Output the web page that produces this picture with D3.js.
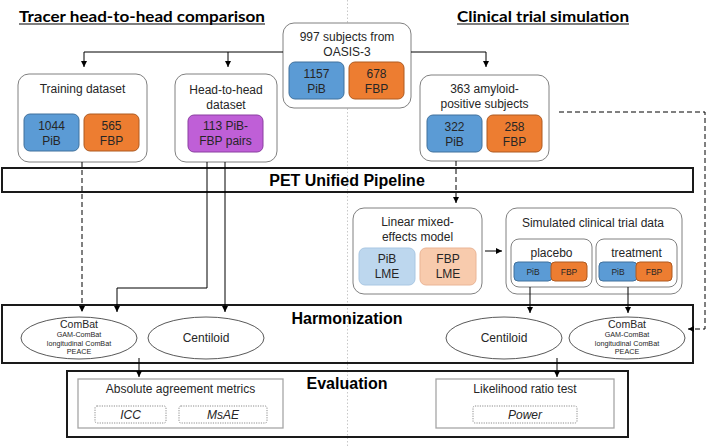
<!DOCTYPE html>
<html><head><meta charset="utf-8">
<script src="https://cdn.jsdelivr.net/npm/d3@7"></script>
<style>body{margin:0;background:#fff}svg{display:block}</style>
</head><body>
<svg id="c" width="709" height="446"></svg>
<script>
// ---- data ----
const sectionTitles = ["Tracer head-to-head comparison", "Clinical trial simulation"];
const stageLabels = ["PET Unified Pipeline", "Harmonization", "Evaluation"];
const tracers = ["PiB", "FBP"];
const sourceTitle = ["997 subjects from", "OASIS-3"];
const sourceCounts = [1157, 678];
const trainingTitle = ["Training dataset"];
const trainingCounts = [1044, 565];
const pairTitle = ["Head-to-head", "dataset"];
const pairLabel = ["113 PiB-", "FBP pairs"];
const amyloidTitle = ["363 amyloid-", "positive subjects"];
const amyloidCounts = [322, 258];
const lmeTitle = ["Linear mixed-", "effects model"];
const lmeSuffix = "LME";
const simTitle = ["Simulated clinical trial data"];
const armLabels = ["placebo", "treatment"];
const methodLabels = ["ComBat", "Centiloid"];
const combatVariants = ["GAM-ComBat", "longitudinal ComBat", "PEACE"];
const evalLabels = ["Absolute agreement metrics", "Likelihood ratio test"];
const metricLabels = [["ICC", "MsAE"], ["Power"]];

// ---- styles ----
const C = {
  text: "#262626",
  blue: "#5b9bd5", blueS: "#41719c",
  orange: "#ed7d31", orangeS: "#ae5a21",
  purple: "#bf5fd7", purpleS: "#8a3ea0",
  lblue: "#bdd7ee", lblueS: "#a9c7e3",
  lorange: "#f8cbad", lorangeS: "#eab596",
  gray: "#808080"
};
const FONT = "'Liberation Sans', Arial, sans-serif";
const svg = d3.select("#c");
svg.append("rect").attr("width", 709).attr("height", 446).attr("fill", "#fff");
const defs = svg.append("defs");
defs.append("marker").attr("id", "ah").attr("viewBox", "0 0 10 10")
  .attr("refX", 10).attr("refY", 5).attr("markerWidth", 6).attr("markerHeight", 6)
  .attr("markerUnits", "userSpaceOnUse").attr("orient", "auto")
  .append("path").attr("d", "M0,0L10,5L0,10z").attr("fill", "#000");

const gBack = svg.append("g"), gBox = svg.append("g"), gLine = svg.append("g"), gText = svg.append("g");

function box(x, y, w, h, o = {}) {
  return gBox.append("rect").attr("x", x).attr("y", y).attr("width", w).attr("height", h)
    .attr("rx", o.r ?? 0).attr("fill", o.fill ?? "#fff").attr("stroke", o.stroke ?? C.gray)
    .attr("stroke-width", o.sw ?? 1).attr("stroke-dasharray", o.dash ?? null);
}
function text(x, y, lines, size, o = {}) {
  const t = gText.append("text").attr("x", x).attr("y", y).attr("text-anchor", o.anchor ?? "middle")
    .attr("font-family", o.font ?? FONT).attr("font-size", size).attr("fill", o.fill ?? C.text)
    .attr("font-weight", o.weight ?? "normal").attr("font-style", o.style ?? "normal");
  const lh = o.lh ?? size * 1.22;
  lines.forEach((s, i) => t.append("tspan").attr("x", x).attr("y", y + i * lh).text(s));
  return t;
}
function line(pts, o = {}) {
  const p = gLine.append("path").attr("d", d3.line()(pts)).attr("fill", "none")
    .attr("stroke", "#000").attr("stroke-width", 1).attr("stroke-dasharray", o.dash ?? null);
  if (o.arrow !== false) p.attr("marker-end", "url(#ah)");
  return p;
}
const fills = [[C.blue, C.blueS], [C.orange, C.orangeS]];
function tracerPair(x0, y, w, h, gap, counts, size, r) {
  tracers.forEach((tr, i) => {
    const x = x0 + i * (w + gap);
    box(x, y, w, h, { r, fill: fills[i][0], stroke: fills[i][1] });
    text(x + w / 2, y + h / 2 - 3, [String(counts[i]), tr], size, { lh: size * 1.25 });
  });
}

// divider
gBack.append("line").attr("x1", 347.5).attr("x2", 347.5).attr("y1", 0).attr("y2", 446)
  .attr("stroke", "#c8c8c8").attr("stroke-width", 1).attr("stroke-dasharray", "1.5,2");

// section titles
[[142, 22, 246], [543, 22, 172]].forEach(([cx, by, tw], i) => {
  const t = text(cx, by, [sectionTitles[i]], 16, { weight: "bold", font: "Lato, 'Open Sans', sans-serif", fill: "#000" });
  t.select("tspan").attr("textLength", tw).attr("lengthAdjust", "spacingAndGlyphs");
  gText.append("line").attr("x1", cx - tw / 2).attr("x2", cx + tw / 2).attr("y1", by + 2).attr("y2", by + 2)
    .attr("stroke", "#000").attr("stroke-width", 1.2);
});

// source box
box(283, 23, 128, 85, { r: 11 });
text(347, 41, sourceTitle, 12, { lh: 14.5 });
tracerPair(289, 62, 55, 37, 5, sourceCounts, 12, 6);

// training
box(18, 74, 129, 88, { r: 11 });
text(82.5, 93, trainingTitle, 12);
tracerPair(24, 114, 55, 37, 5, trainingCounts, 12, 6);

// head-to-head
box(175, 74, 102, 88, { r: 11 });
text(226, 94, pairTitle, 12, { lh: 15 });
box(188, 115, 75, 37, { r: 6, fill: C.purple, stroke: C.purpleS });
text(225.5, 130, pairLabel, 12, { lh: 15 });

// amyloid
box(420, 75, 129, 86, { r: 11 });
text(484.5, 93, amyloidTitle, 12, { lh: 15 });
tracerPair(427, 115, 55, 37, 5, amyloidCounts, 12, 6);

// LME
box(353, 208, 129, 86, { r: 11 });
text(417.5, 226, lmeTitle, 12, { lh: 15 });
[[C.lblue, C.lblueS], [C.lorange, C.lorangeS]].forEach((f, i) => {
  const x = 359 + i * 61;
  box(x, 248, 56, 37, { r: 6, fill: f[0], stroke: f[1] });
  text(x + 28, 263, [tracers[i], lmeSuffix], 12, { lh: 15 });
});

// simulated trial
box(506, 208, 176, 86, { r: 11 });
text(593, 227, simTitle, 12);
armLabels.forEach((a, i) => {
  const x = 511 + i * 85;
  box(x, 239, 81, 48, { r: 8 });
  text(x + 40.5, 257, [a], 12);
  tracers.forEach((tr, j) => {
    const bx = x + 3 + j * 37;
    box(bx, 262, 38 - j * 2, 19, { r: 4, fill: fills[j][0], stroke: fills[j][1] });
    text(bx + (38 - j * 2) / 2, 275, [tr], 8.5);
  });
});

// stage boxes
const stageBoxes = [[2, 168, 691, 24, 186], [2, 305, 691, 58, 324], [67, 371, 561, 66, 389]];
stageBoxes.forEach(([x, y, w, h, by], i) => {
  box(x, y, w, h, { fill: "none", stroke: "#1a1a1a", sw: 2 });
  text(347, by, [stageLabels[i]], 16, { weight: "bold", fill: "#000" });
});

// ellipses
const ell = [[79, 0], [206, 1], [504, 1], [627, 0]];
ell.forEach(([cx, m]) => {
  gBox.append("ellipse").attr("cx", cx).attr("cy", 338).attr("rx", 58).attr("ry", 21)
    .attr("fill", "#fff").attr("stroke", "#595959").attr("stroke-width", 1);
  if (m === 0) {
    text(cx, 328, [methodLabels[0]], 10.5);
    text(cx, 337, combatVariants, 7.2, { lh: 8.5 });
  } else {
    text(cx, 342, [methodLabels[1]], 12);
  }
});

// evaluation boxes
const evalBoxes = [[78, 379, 205, 49], [436, 379, 178, 49]];
evalBoxes.forEach(([x, y, w, h], i) => {
  box(x, y, w, h, { stroke: "#a6a6a6", sw: 1.3 });
  text(x + w / 2, 393, [evalLabels[i]], 12);
});
const metricBoxes = [[[95, 71], [179, 88]], [[473, 104]]];
metricLabels.forEach((ms, i) => ms.forEach((m, j) => {
  const [x, w] = metricBoxes[i][j];
  box(x, 406, w, 17, { r: 2, stroke: "#8c8c8c", dash: "1.2,1.2" });
  text(x + w / 2, 418.5, [m], 12, { style: "italic" });
}));

// arrows
line([[283, 52], [84, 52], [84, 67]]);
line([[228, 52], [228, 67]]);
line([[411, 52], [486, 52], [486, 67]]);
line([[82, 162], [82, 312]], { dash: "5,3" });
line([[207, 162], [207, 288], [117, 288], [117, 312]]);
line([[225, 162], [225, 312]]);
line([[456, 161], [456, 203]], { dash: "5,3" });
line([[485, 251], [502, 251]]);
line([[530, 287], [530, 313]]);
line([[628, 287], [628, 313]]);
line([[559, 112], [705, 112], [705, 329], [688, 329]], { dash: "5,3" });
line([[139, 358], [139, 377]]);
line([[557, 358], [557, 377]]);
</script>
</body></html>
